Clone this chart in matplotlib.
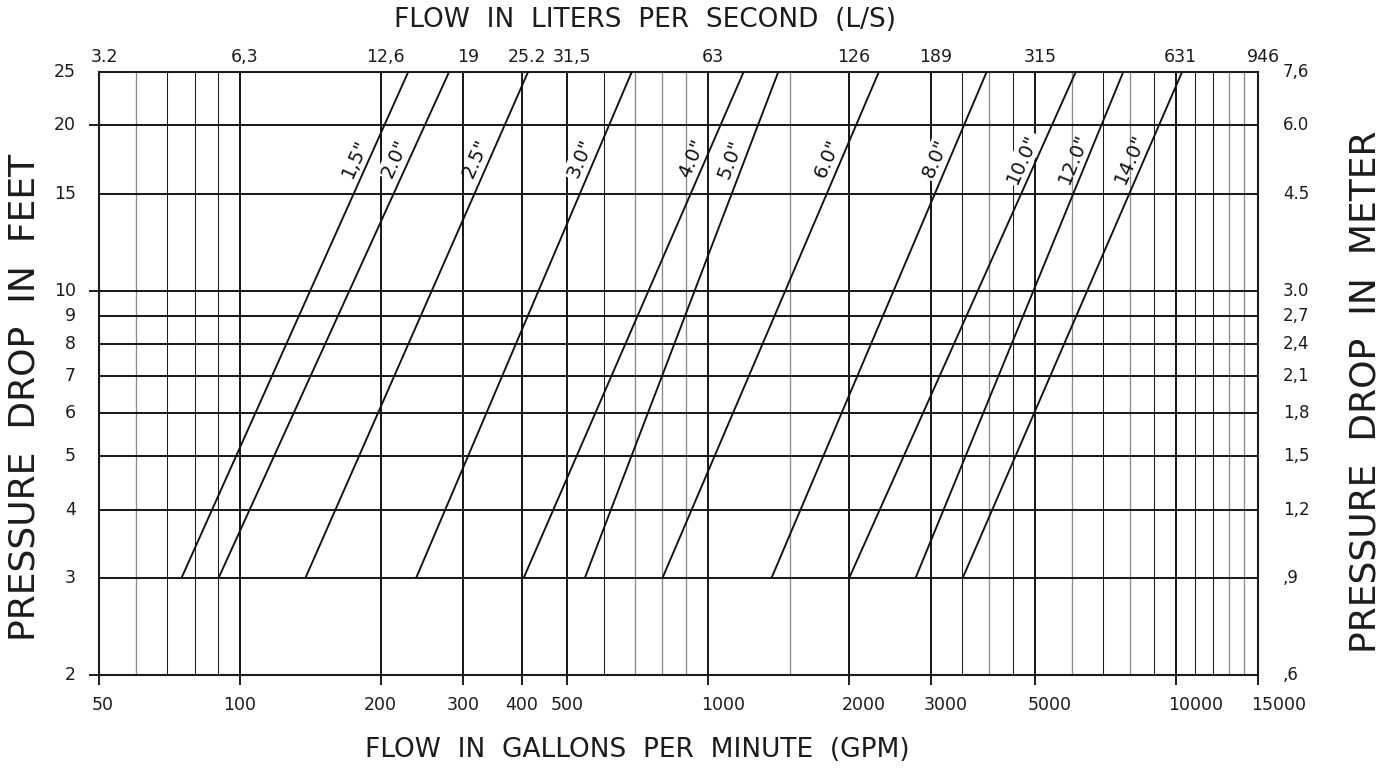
# %% ライブラリ

import numpy as np
import matplotlib.pyplot as plt
from matplotlib.ticker import NullLocator, NullFormatter

# %% データ

# 流量 (GPM) の目盛と L/S 換算値
gpm_major = [50, 100, 200, 300, 400, 500, 1000, 2000, 3000, 5000, 10000, 15000]
gpm_labels = ['50', '100', '200', '300', '400', '500',
              '1000', '2000', '3000', '5000', '10000', '15000']
lps_labels = ['3.2', '6,3', '12,6', '19', '25.2', '31,5',
              '63', '126', '189', '315', '631', '946']

# 補助の縦線 (黒い細線と灰色の線)
gpm_minor_black = [70, 80, 90, 600, 3500, 4500, 7000, 9000, 11000, 12000]
gpm_minor_gray = [60, 700, 800, 900, 1500, 4000, 6000, 8000, 13000, 14000]

# 圧力損失 (feet) と meter 換算値
feet = [2, 3, 4, 5, 6, 7, 8, 9, 10, 15, 20, 25]
feet_labels = ['2', '3', '4', '5', '6', '7', '8', '9', '10', '15', '20', '25']
meter_labels = [',6', ',9', '1,2', '1,5', '1,8', '2,1', '2,4', '2,7',
                '3.0', '4.5', '6.0', '7,6']
feet_ticks = [2, 10, 20]

# 管径ごとの直線: 3 ft と 25 ft での流量
pipe_labels = ['1,5"', '2.0"', '2.5"', '3.0"', '4.0"', '5.0"',
               '6.0"', '8.0"', '10.0"', '12.0"', '14.0"']
gpm_at_3ft = [75, 90, 138, 238, 404, 546, 800, 1368, 2005, 2780, 3505]
gpm_at_25ft = [229, 280, 413, 688, 1193, 1415, 2321, 3945, 6116, 7727, 10323]
p_low, p_high = 3, 25
# ラベルの下の縦線を消すもの
knockout = ['2.0"', '3.0"', '8.0"', '10.0"']

# %% グラフ

W, H = 1392, 774
fig = plt.figure(figsize=(W / 100, H / 100), dpi=100)
ax = fig.add_axes([99 / W, 1 - 675 / H, (1258 - 99) / W, (675 - 72) / H])
ax.set_xscale('log')
ax.set_yscale('log')
ax.set_xlim(50, 15000)
ax.set_ylim(2, 25)

black = '#1c1c1c'
gray = '#8a8a8a'

# 目盛
ax.xaxis.set_minor_locator(NullLocator())
ax.yaxis.set_minor_locator(NullLocator())
ax.set_xticks(gpm_major)
ax.set_yticks(feet_ticks)
ax.xaxis.set_major_formatter(NullFormatter())
ax.yaxis.set_major_formatter(NullFormatter())
ax.tick_params(axis='both', direction='out', length=7.5, width=1.4,
               color=black)
for s in ax.spines.values():
    s.set_linewidth(1.5)
    s.set_color(black)

# 格子線
for v in gpm_major:
    ax.axvline(v, color=black, lw=1.45, zorder=1)
for v in gpm_minor_black:
    ax.axvline(v, color=black, lw=0.75, zorder=1)
for v in gpm_minor_gray:
    ax.axvline(v, color=gray, lw=0.95, zorder=1)
for f in feet:
    ax.axhline(f, color=black, lw=1.45, zorder=1.5)

# 管径ごとの直線とラベル
label_p = 17.0
for lab, q0, q1 in zip(pipe_labels, gpm_at_3ft, gpm_at_25ft):
    ax.plot([q0, q1], [p_low, p_high], color='#111111', lw=1.35,
            zorder=3, solid_capstyle='butt')
    d0 = ax.transData.transform((q0, p_low))
    d1 = ax.transData.transform((q1, p_high))
    ang = np.arctan2(d1[1] - d0[1], d1[0] - d0[0])
    t = np.log(label_p / p_low) / np.log(p_high / p_low)
    q = q0 * (q1 / q0) ** t
    off = 13
    kw = {}
    if lab in knockout:
        kw['bbox'] = dict(boxstyle='square,pad=0.1', fc='white',
                          ec='none')
    ax.annotate(lab, xy=(q, label_p),
                xytext=(-np.sin(ang) * off, np.cos(ang) * off),
                textcoords='offset pixels', rotation=np.degrees(ang),
                rotation_mode='anchor', ha='center', va='center',
                fontsize=14, color='#111111', zorder=1.2, **kw)

# 軸の数値
for v, lab in zip(gpm_major, gpm_labels):
    if 100 <= v <= 500:
        ha, dx = 'center', 0
    else:
        ha, dx = 'left', -7
    ax.annotate(lab, xy=(v, 0), xycoords=('data', 'axes fraction'),
                xytext=(dx, -30), textcoords='offset pixels',
                ha=ha, va='center', fontsize=12.5, color=black)
for v, lab in zip(gpm_major, lps_labels):
    ax.annotate(lab, xy=(v, 1), xycoords=('data', 'axes fraction'),
                xytext=(5, 15), textcoords='offset pixels',
                ha='center', va='center', fontsize=12.5, color=black)
for f, lab in zip(feet, feet_labels):
    ax.annotate(lab, xy=(0, f), xycoords=('axes fraction', 'data'),
                xytext=(-23, 0), textcoords='offset pixels',
                ha='right', va='center', fontsize=12.5, color=black)
for f, lab in zip(feet, meter_labels):
    ax.annotate(lab, xy=(1, f), xycoords=('axes fraction', 'data'),
                xytext=(25, 0), textcoords='offset pixels',
                ha='left', va='center', fontsize=12, color=black)

# 軸タイトル
fig.text(645 / W, 1 - 20 / H, 'FLOW  IN  LITERS  PER  SECOND  (L/S)',
         ha='center', va='center', fontsize=19, color=black)
fig.text(637 / W, 1 - 750 / H, 'FLOW  IN  GALLONS  PER  MINUTE  (GPM)',
         ha='center', va='center', fontsize=19, color=black)
fig.text(25 / W, 1 - 397 / H, 'PRESSURE  DROP  IN  FEET',
         ha='center', va='center', rotation=90, fontsize=26, color=black)
fig.text(1365 / W, 1 - 392 / H, 'PRESSURE  DROP  IN  METER',
         ha='center', va='center', rotation=90, fontsize=26, color=black)

fig.savefig('out.png', dpi=100)
